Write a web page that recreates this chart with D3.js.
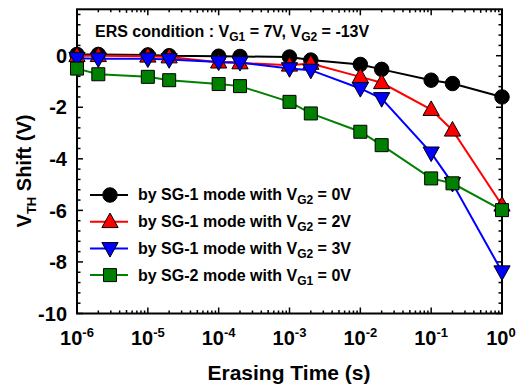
<!DOCTYPE html>
<html>
<head>
<meta charset="utf-8">
<script src="https://cdn.jsdelivr.net/npm/d3@7"></script>
<style>
  body { margin: 0; background: #fff; }
  text { font-family: "Liberation Sans", Arial, sans-serif; font-weight: bold; fill: #000; }
</style>
</head>
<body>
<div class="vis-chart"></div>
<script>
const times = [1e-6, 2e-6, 1e-5, 2e-5, 1e-4, 2e-4, 1e-3, 2e-3, 1e-2, 2e-2, 1e-1, 2e-1, 1];
const sg1Vg2_0V = [0.05, 0.05, 0.03, 0.0, -0.02, -0.03, -0.05, -0.17, -0.34, -0.53, -0.95, -1.08, -1.6];
const sg1Vg2_2V = [0.0, 0.0, -0.02, -0.05, -0.25, -0.28, -0.37, -0.3, -0.82, -1.05, -2.09, -2.89, -5.8];
const sg1Vg2_3V = [-0.1, -0.12, -0.12, -0.15, -0.24, -0.26, -0.5, -0.56, -1.27, -1.66, -3.77, -4.95, -8.38];
const sg2Vg1_0V = [-0.5, -0.72, -0.82, -0.95, -1.1, -1.18, -1.79, -2.24, -2.95, -3.47, -4.76, -4.95, -5.99];
const xTickExps = [-6, -5, -4, -3, -2, -1, 0];
const yTickLabels = [0, -2, -4, -6, -8, -10];

const series = [
  { name: 'SG-1', gate: 'G2', bias: '0V', values: sg1Vg2_0V, color: '#000000', symbol: 'circle' },
  { name: 'SG-1', gate: 'G2', bias: '2V', values: sg1Vg2_2V, color: '#ff0000', symbol: 'up' },
  { name: 'SG-1', gate: 'G2', bias: '3V', values: sg1Vg2_3V, color: '#0000ff', symbol: 'down' },
  { name: 'SG-2', gate: 'G1', bias: '0V', values: sg2Vg1_0V, color: '#008000', symbol: 'square' }
];

const W = 517, H = 387;
const margin = { top: 9.3, right: 15, bottom: 73.5, left: 77 };
const width = W - margin.left - margin.right;
const height = H - margin.top - margin.bottom;

const svg = d3.select('.vis-chart').append('svg')
  .attr('width', W).attr('height', H);
const g = svg.append('g').attr('transform', `translate(${margin.left},${margin.top})`);

const x = d3.scaleLog().domain([1e-6, 1]).range([0, width]);
const y = d3.scaleLinear().domain([-10, 1.8]).range([height, 0]);

// minor / major ticks, drawn inward on all four sides
const xMinor = [];
for (let e = -6; e < 0; e++) for (let m = 2; m <= 9; m++) xMinor.push(m * Math.pow(10, e));
const xMajor = xTickExps.map((e) => Math.pow(10, e));
const yMinor = d3.range(-10, 1.8, 0.4).map((v) => +v.toFixed(1));

const ticks = g.append('g').attr('stroke', '#000').attr('stroke-width', 1.5);
xMajor.forEach((t) => {
  ticks.append('line').attr('x1', x(t)).attr('x2', x(t)).attr('y1', height).attr('y2', height - 6);
  ticks.append('line').attr('x1', x(t)).attr('x2', x(t)).attr('y1', 0).attr('y2', 6);
});
xMinor.forEach((t) => {
  const len = (Math.round(t / Math.pow(10, Math.floor(Math.log10(t) + 1e-9))) === 5) ? 3.5 : 3;
  ticks.append('line').attr('x1', x(t)).attr('x2', x(t)).attr('y1', height).attr('y2', height - len);
  ticks.append('line').attr('x1', x(t)).attr('x2', x(t)).attr('y1', 0).attr('y2', len);
});
yMinor.forEach((v) => {
  const major = Math.abs(v % 2) < 1e-6;
  const len = major ? 6 : 3.5;
  ticks.append('line').attr('x1', 0).attr('x2', len).attr('y1', y(v)).attr('y2', y(v));
  ticks.append('line').attr('x1', width).attr('x2', width - len).attr('y1', y(v)).attr('y2', y(v));
});

// frame
g.append('rect').attr('width', width).attr('height', height)
  .attr('fill', 'none').attr('stroke', '#000').attr('stroke-width', 2);

// x tick labels with superscripts
xTickExps.forEach((e) => {
  const t = g.append('text')
    .attr('x', x(Math.pow(10, e)) + (e === 0 ? -1 : 0))
    .attr('y', height + 32)
    .attr('text-anchor', 'middle')
    .style('font-size', '20px');
  t.append('tspan').text('10');
  t.append('tspan').attr('dy', -8).style('font-size', '13px').text(e === 0 ? '0' : `${e}`);
});

// y tick labels
yTickLabels.forEach((v) => {
  g.append('text')
    .attr('x', -10).attr('y', y(v)).attr('dy', '0.36em')
    .attr('text-anchor', 'end')
    .style('font-size', '20px')
    .text(v);
});

// axis titles
svg.append('text')
  .attr('x', 289).attr('y', 380)
  .attr('text-anchor', 'middle')
  .style('font-size', '21px')
  .text('Erasing Time (s)');

const yt = svg.append('text')
  .attr('transform', 'translate(31,171) rotate(-90)')
  .attr('text-anchor', 'middle')
  .style('font-size', '20px');
yt.append('tspan').text('V');
yt.append('tspan').attr('dy', 5).style('font-size', '13px').text('TH');
yt.append('tspan').attr('dy', -5).text(' Shift (V)');

// condition annotation
const ann = g.append('text').attr('x', 18).attr('y', 28).style('font-size', '16px');
ann.append('tspan').text('ERS condition : V');
ann.append('tspan').attr('dy', 4).style('font-size', '12px').text('G1');
ann.append('tspan').attr('dy', -4).text(' = 7V, V');
ann.append('tspan').attr('dy', 4).style('font-size', '12px').text('G2');
ann.append('tspan').attr('dy', -4).text(' = -13V');

// marker shapes
const symbolPath = (type, size) => {
  const s = size;
  if (type === 'up') return `M0,${-s * 0.62}L${s * 0.58},${s * 0.42}L${-s * 0.58},${s * 0.42}Z`;
  if (type === 'down') return `M0,${s * 0.62}L${s * 0.58},${-s * 0.42}L${-s * 0.58},${-s * 0.42}Z`;
  if (type === 'square') return `M${-s / 2},${-s / 2}h${s}v${s}h${-s}Z`;
  return d3.symbol(d3.symbolCircle, Math.PI * (s / 2) * (s / 2))();
};
const markerSize = { circle: 14.5, up: 14, down: 14, square: 13 };

const line = d3.line().x((d) => x(d.t)).y((d) => y(d.v));

series.forEach((s) => {
  const pts = times.map((t, i) => ({ t, v: s.values[i] }));
  const sg = g.append('g');
  sg.append('path').datum(pts)
    .attr('fill', 'none').attr('stroke', s.color).attr('stroke-width', 2)
    .attr('d', line);
  sg.selectAll('path.m').data(pts).enter().append('path')
    .attr('class', 'm')
    .attr('transform', (d) => `translate(${x(d.t)},${y(d.v)})`)
    .attr('d', symbolPath(s.symbol, markerSize[s.symbol]))
    .attr('fill', s.color).attr('stroke', '#000').attr('stroke-width', 1);
});

// legend
const legend = g.append('g');
series.forEach((s, i) => {
  const ly = 195 - margin.top + i * 26.7;
  legend.append('line').attr('x1', 13).attr('x2', 51).attr('y1', ly).attr('y2', ly)
    .attr('stroke', s.color).attr('stroke-width', 2);
  legend.append('path').attr('transform', `translate(33,${ly})`)
    .attr('d', symbolPath(s.symbol, markerSize[s.symbol]))
    .attr('fill', s.color).attr('stroke', '#000').attr('stroke-width', 1);
  const t = legend.append('text').attr('x', 61).attr('y', ly + 5.5).style('font-size', '16px');
  t.append('tspan').text(`by ${s.name} mode with V`);
  t.append('tspan').attr('dy', 4).style('font-size', '12px').text(s.gate);
  t.append('tspan').attr('dy', -4).text(` = ${s.bias}`);
});
</script>
</body>
</html>
